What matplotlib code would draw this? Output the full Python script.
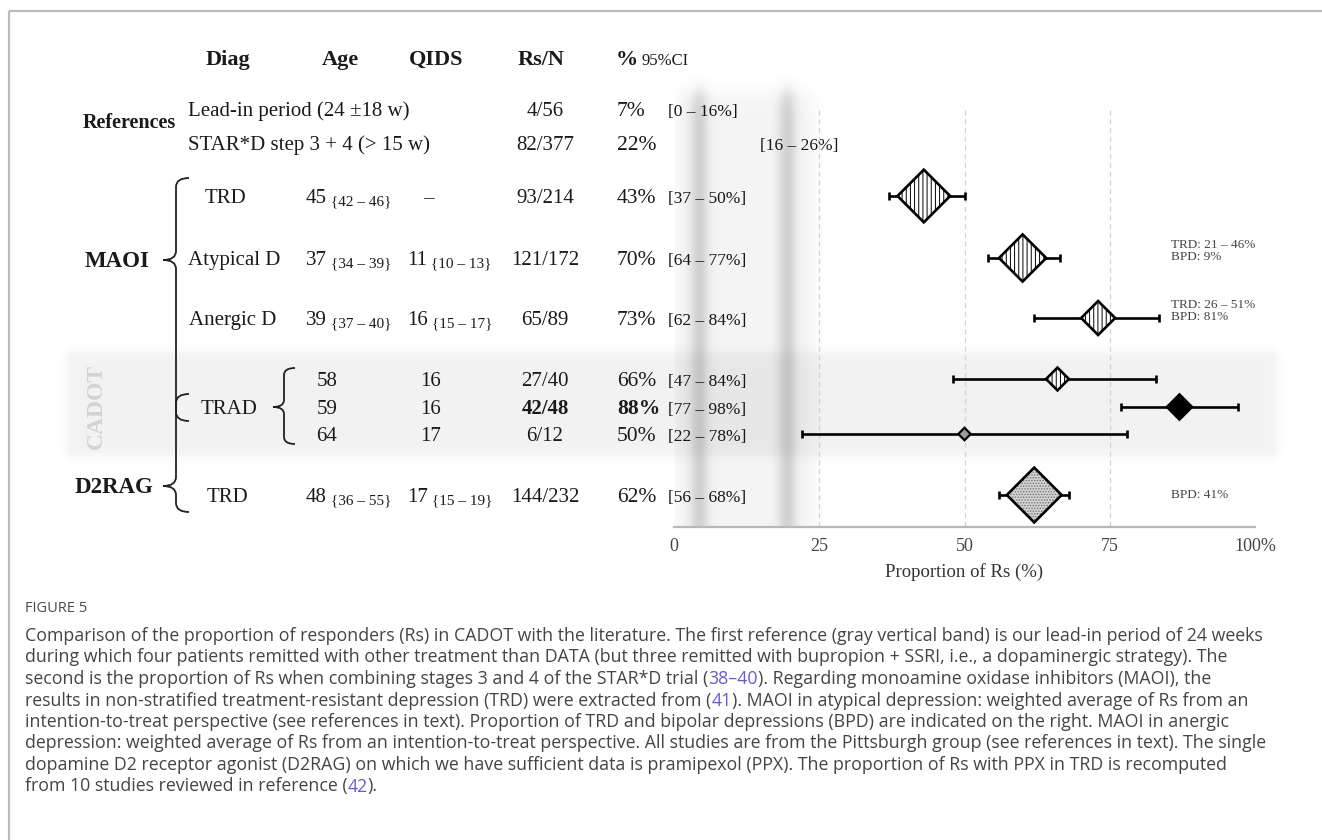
import numpy as np
import matplotlib
matplotlib.use("Agg")
import matplotlib.pyplot as plt
from matplotlib.patches import Polygon, PathPatch
from matplotlib.path import Path

plt.rcParams['hatch.linewidth'] = 0.7

W, H = 1322, 840
SERIF = 'Liberation Serif'
SANS = 'Open Sans'

# ---------------- data ----------------
ref_labels = ["Lead-in period (24 ±18 w)", "STAR*D step 3 + 4 (> 15 w)"]
ref_rsn = ["4/56", "82/377"]
ref_pct = ["7%", "22%"]
ref_ci = ["[0 – 16%]", "[16 – 26%]"]

diag = ["TRD", "Atypical D", "Anergic D", "", "TRAD", "", "TRD"]
age = ["45", "37", "39", "58", "59", "64", "48"]
age_ci = ["{42 – 46}", "{34 – 39}", "{37 – 40}", "", "", "", "{36 – 55}"]
qids = ["–", "11", "16", "16", "16", "17", "17"]
qids_ci = ["", "{10 – 13}", "{15 – 17}", "", "", "", "{15 – 19}"]
rs = [93, 121, 65, 27, 42, 6, 144]
n = [214, 172, 89, 40, 48, 12, 232]
pct_lbl = ["43%", "70%", "73%", "66%", "88%", "50%", "62%"]
ci_lbl = ["[37 – 50%]", "[64 – 77%]", "[62 – 84%]", "[47 – 84%]",
          "[77 – 98%]", "[22 – 78%]", "[56 – 68%]"]
# plotted estimates and intervals as drawn
est = [43, 60, 73, 66, 87, 50, 62]
lo = [37, 54, 62, 48, 77, 22, 56]
hi = [50, 66.5, 83.5, 83, 97, 78, 68]
style = ["hatch", "hatch", "hatch", "hatch", "black", "gray", "dots"]
bold_row = [False, False, False, False, True, False, False]

notes = ["TRD: 21 – 46%\nBPD: 9%", "TRD: 26 – 51%\nBPD: 81%", "BPD: 41%"]
note_row = [1, 2, 6]

caption = [
    [("Comparison of the proportion of responders (Rs) in CADOT with the literature. The first reference (gray vertical band) is our lead-in period of 24 weeks", None)],
    [("during which four patients remitted with other treatment than DATA (but three remitted with bupropion + SSRI, i.e., a dopaminergic strategy). The", None)],
    [("second is the proportion of Rs when combining stages 3 and 4 of the STAR*D trial (", None), ("38–40", "ref"), ("). Regarding monoamine oxidase inhibitors (MAOI), the", None)],
    [("results in non-stratified treatment-resistant depression (TRD) were extracted from (", None), ("41", "ref"), ("). MAOI in atypical depression: weighted average of Rs from an", None)],
    [("intention-to-treat perspective (see references in text). Proportion of TRD and bipolar depressions (BPD) are indicated on the right. MAOI in anergic", None)],
    [("depression: weighted average of Rs from an intention-to-treat perspective. All studies are from the Pittsburgh group (see references in text). The single", None)],
    [("dopamine D2 receptor agonist (D2RAG) on which we have sufficient data is pramipexol (PPX). The proportion of Rs with PPX in TRD is recomputed", None)],
    [("from 10 studies reviewed in reference (", None), ("42", "ref"), (").", None)],
]

# ---------------- layout ----------------
ref_y = [109, 143]
row_y = [196, 258, 318, 379, 407, 434, 495]
diag_x = [205, 188, 189, 0, 201, 0, 207]
header_y = 58

ax_left, ax_right, ax_top, ax_bot = 674, 1255, 70, 527
px_per_unit = (ax_right - ax_left) / 100.0

fig = plt.figure(figsize=(W / 100, H / 100), dpi=100)
bg = fig.add_axes([0, 0, 1, 1], zorder=0)
bg.set_xlim(0, W)
bg.set_ylim(H, 0)
bg.axis('off')

ax = fig.add_axes([ax_left / W, (H - ax_bot) / H, (ax_right - ax_left) / W,
                   (ax_bot - ax_top) / H], zorder=1)
ax.patch.set_visible(False)

# frame
bg.plot([9, W], [11, 11], color='#bdbdbd', lw=1.6, solid_capstyle='butt')
bg.plot([9, 9], [11, H], color='#bdbdbd', lw=1.6, solid_capstyle='butt')

# CADOT band with soft edges
bx = np.arange(40, 1300)
by = np.arange(335, 475)
sx = 1 / (1 + np.exp(-(bx - 66) / 3.0)) * 1 / (1 + np.exp(-(1278 - bx) / 3.0))
sy = 1 / (1 + np.exp(-(by - 351) / 3.0)) * 1 / (1 + np.exp(-(457 - by) / 3.0))
band = np.zeros((len(by), len(bx), 4))
band[..., 3] = 0.052 * sy[:, None] * sx[None, :]
bg.imshow(band, extent=(bx[0], bx[-1], by[-1], by[0]), aspect='auto', zorder=0,
          interpolation='bilinear')
bg.set_xlim(0, W)
bg.set_ylim(H, 0)

bg.text(96, 406, "CADOT", rotation=90, ha='center', va='center', fontsize=17,
        fontweight='bold', color='#d3d3d3', family=SERIF)


def brace(x, top, bottom, tip, tipx, endx, r=9):
    verts = [(endx, top), (x, top), (x, top + r), (x, tip - r), (x, tip),
             (tipx, tip), (x, tip), (x, tip + r), (x, bottom - r), (x, bottom),
             (endx, bottom)]
    codes = [Path.MOVETO, Path.CURVE3, Path.CURVE3, Path.LINETO, Path.CURVE3,
             Path.CURVE3, Path.CURVE3, Path.CURVE3, Path.LINETO, Path.CURVE3,
             Path.CURVE3]
    bg.add_patch(PathPatch(Path(verts, codes), fill=False, lw=1.3, color='#222222'))


brace(176, 178, 421, 260, 163, 189)
brace(176, 394, 512, 486, 163, 189)
brace(284, 368, 444, 407, 273, 295, r=7)

bg.text(83, 122 + 6, "References", fontsize=14.5, fontweight='bold', family=SERIF,
        va='baseline', color='#1a1a1a')
bg.text(117, 260 + 7, "MAOI", fontsize=16.5, fontweight='bold', family=SERIF,
        ha='center', va='baseline', color='#1a1a1a')
bg.text(114, 486 + 7, "D2RAG", fontsize=16.5, fontweight='bold', family=SERIF,
        ha='center', va='baseline', color='#1a1a1a')

# header
hk = dict(fontsize=16, fontweight='bold', family=SERIF, va='baseline', color='#1a1a1a')
bg.text(228, header_y + 7, "Diag", ha='center', **hk)
bg.text(340, header_y + 7, "Age", ha='center', **hk)
bg.text(436, header_y + 7, "QIDS", ha='center', **hk)
bg.text(541, header_y + 7, "Rs/N", ha='center', **hk)
bg.text(616, header_y + 7, "%", ha='left', **hk)
bg.text(642, header_y + 7, "95%CI", ha='left', fontsize=12, family=SERIF,
        va='baseline', color='#1a1a1a')

tk = dict(family=SERIF, va='baseline', color='#1a1a1a')


def pair(x, y, big, small, ha='left', weight='normal'):
    t = bg.text(x, y, big, fontsize=15, ha=ha, fontweight=weight, **tk)
    if small:
        bg.annotate(" " + small, xy=(1, 0), xycoords=t, va='bottom', ha='left',
                    fontsize=11, family=SERIF, color='#1a1a1a')


for i in range(2):
    yb = ref_y[i] + 7
    bg.text(188, yb, ref_labels[i], fontsize=15, **tk)
    bg.text(545, yb, ref_rsn[i], fontsize=15, ha='center', **tk)
    bg.text(617, yb, ref_pct[i], fontsize=15.5, **tk)
bg.text(668, ref_y[0] + 7, ref_ci[0], fontsize=12.5, **tk)
bg.text(760, ref_y[1] + 7, ref_ci[1], fontsize=12.5, **tk)

for i in range(len(age)):
    yb = row_y[i] + 7
    w = 'bold' if bold_row[i] else 'normal'
    if diag[i]:
        bg.text(diag_x[i], yb, diag[i], fontsize=15, **tk)
    if age_ci[i]:
        pair(306, yb, age[i], age_ci[i])
    else:
        pair(327, yb, age[i], "", ha='center')
    if qids_ci[i]:
        pair(407, yb, qids[i], qids_ci[i])
    else:
        pair(428 if qids[i] == "–" else 431, yb, qids[i], "", ha='center')
    bg.text(545, yb, f"{rs[i]}/{n[i]}", fontsize=15, ha='center', fontweight=w, **tk)
    bg.text(617, yb, pct_lbl[i], fontsize=15.5, fontweight=w, **tk)
    bg.text(668, yb, ci_lbl[i], fontsize=12.5, **tk)

for txt, r in zip(notes, note_row):
    nl = txt.count("\n")
    bg.text(1171, row_y[r] - 7 * nl, txt, fontsize=9.5, family=SERIF, color='#444444',
            va='center', linespacing=1.05)

# gray vertical reference band (gradient)
gx = np.linspace(-2, 30, 640)
gy = np.linspace(75, ax_bot, 300)
dark = (0.045 / (1 + np.exp(-(gx - 0.3) / 0.4)) / (1 + np.exp(-(24.0 - gx) / 0.8))
        + 0.14 * np.exp(-0.5 * ((gx - 4.3) / 1.1) ** 2)
        + 0.14 * np.exp(-0.5 * ((gx - 19.4) / 1.1) ** 2))
fade = 1 / (1 + np.exp(-(gy - 92) / 6.0))
img = np.zeros((len(gy), len(gx), 4))
img[..., 3] = dark[None, :] * fade[:, None]
ax.imshow(img, extent=(gx[0], gx[-1], ax_bot, 75), aspect='auto', zorder=0,
          interpolation='bilinear')

ax.vlines([25, 50, 75], 110, ax_bot, colors='#d2d2d2', linestyles=(0, (4, 3)), lw=0.9,
          zorder=1)

# error bars and diamonds
for i in range(len(est)):
    y = row_y[i]
    ax.errorbar(est[i], y, xerr=[[est[i] - lo[i]], [hi[i] - est[i]]], fmt='none',
                ecolor='black', elinewidth=1.9, capsize=3.0, capthick=1.9, zorder=2)
    size = 3.6 * np.sqrt(n[i])
    hw = size / 2 / px_per_unit
    hh = size / 2
    verts = [(est[i] - hw, y), (est[i], y - hh), (est[i] + hw, y), (est[i], y + hh)]
    if style[i] == "hatch":
        ax.add_patch(Polygon(verts, closed=True, facecolor='white', edgecolor='black',
                             hatch='||||', lw=0, zorder=3))
        ax.add_patch(Polygon(verts, closed=True, fill=False, edgecolor='black',
                             lw=1.9, joinstyle='miter', zorder=4))
    elif style[i] == "black":
        ax.add_patch(Polygon(verts, closed=True, facecolor='black', edgecolor='black',
                             lw=1.9, joinstyle='miter', zorder=4))
    elif style[i] == "gray":
        ax.add_patch(Polygon(verts, closed=True, facecolor='#9a9a9a', edgecolor='black',
                             lw=1.6, joinstyle='miter', zorder=4))
    else:
        ax.add_patch(Polygon(verts, closed=True, facecolor='#d4d4d4', edgecolor='#707070',
                             hatch='......', lw=0, zorder=3))
        ax.add_patch(Polygon(verts, closed=True, fill=False, edgecolor='black',
                             lw=1.9, joinstyle='miter', zorder=4))

ax.set_xlim(0, 100)
ax.set_ylim(ax_bot, ax_top)
for s in ['top', 'right', 'left']:
    ax.spines[s].set_visible(False)
ax.spines['bottom'].set_color('#b8b8b8')
ax.spines['bottom'].set_linewidth(1.6)
ax.set_yticks([])
ax.set_xticks([0, 25, 50, 75, 100])
ax.set_xticklabels(["0", "25", "50", "75", "100%"], family=SERIF, fontsize=13,
                   color='#444444')
ax.tick_params(axis='x', length=0, pad=8)
ax.set_xlabel("Proportion of Rs (%)", family=SERIF, fontsize=13.5, color='#333333',
              labelpad=6)

# caption
bg.text(25, 608, "FIGURE 5", family=SANS, fontsize=10.5, color='#4a4a4a', va='center')
ck = dict(family=SANS, fontsize=12.8)
for li, parts in enumerate(caption):
    y = 636 + 21.5 * li
    t = None
    for s, c in parts:
        col = '#6a5acd' if c == "ref" else '#444444'
        if t is None:
            t = bg.text(25, y + 5, s, color=col, va='baseline', **ck)
        else:
            t = bg.annotate(s, xy=(1, 0), xycoords=t, va='bottom', ha='left',
                            color=col, **ck)

fig.savefig("out.png", dpi=100)
